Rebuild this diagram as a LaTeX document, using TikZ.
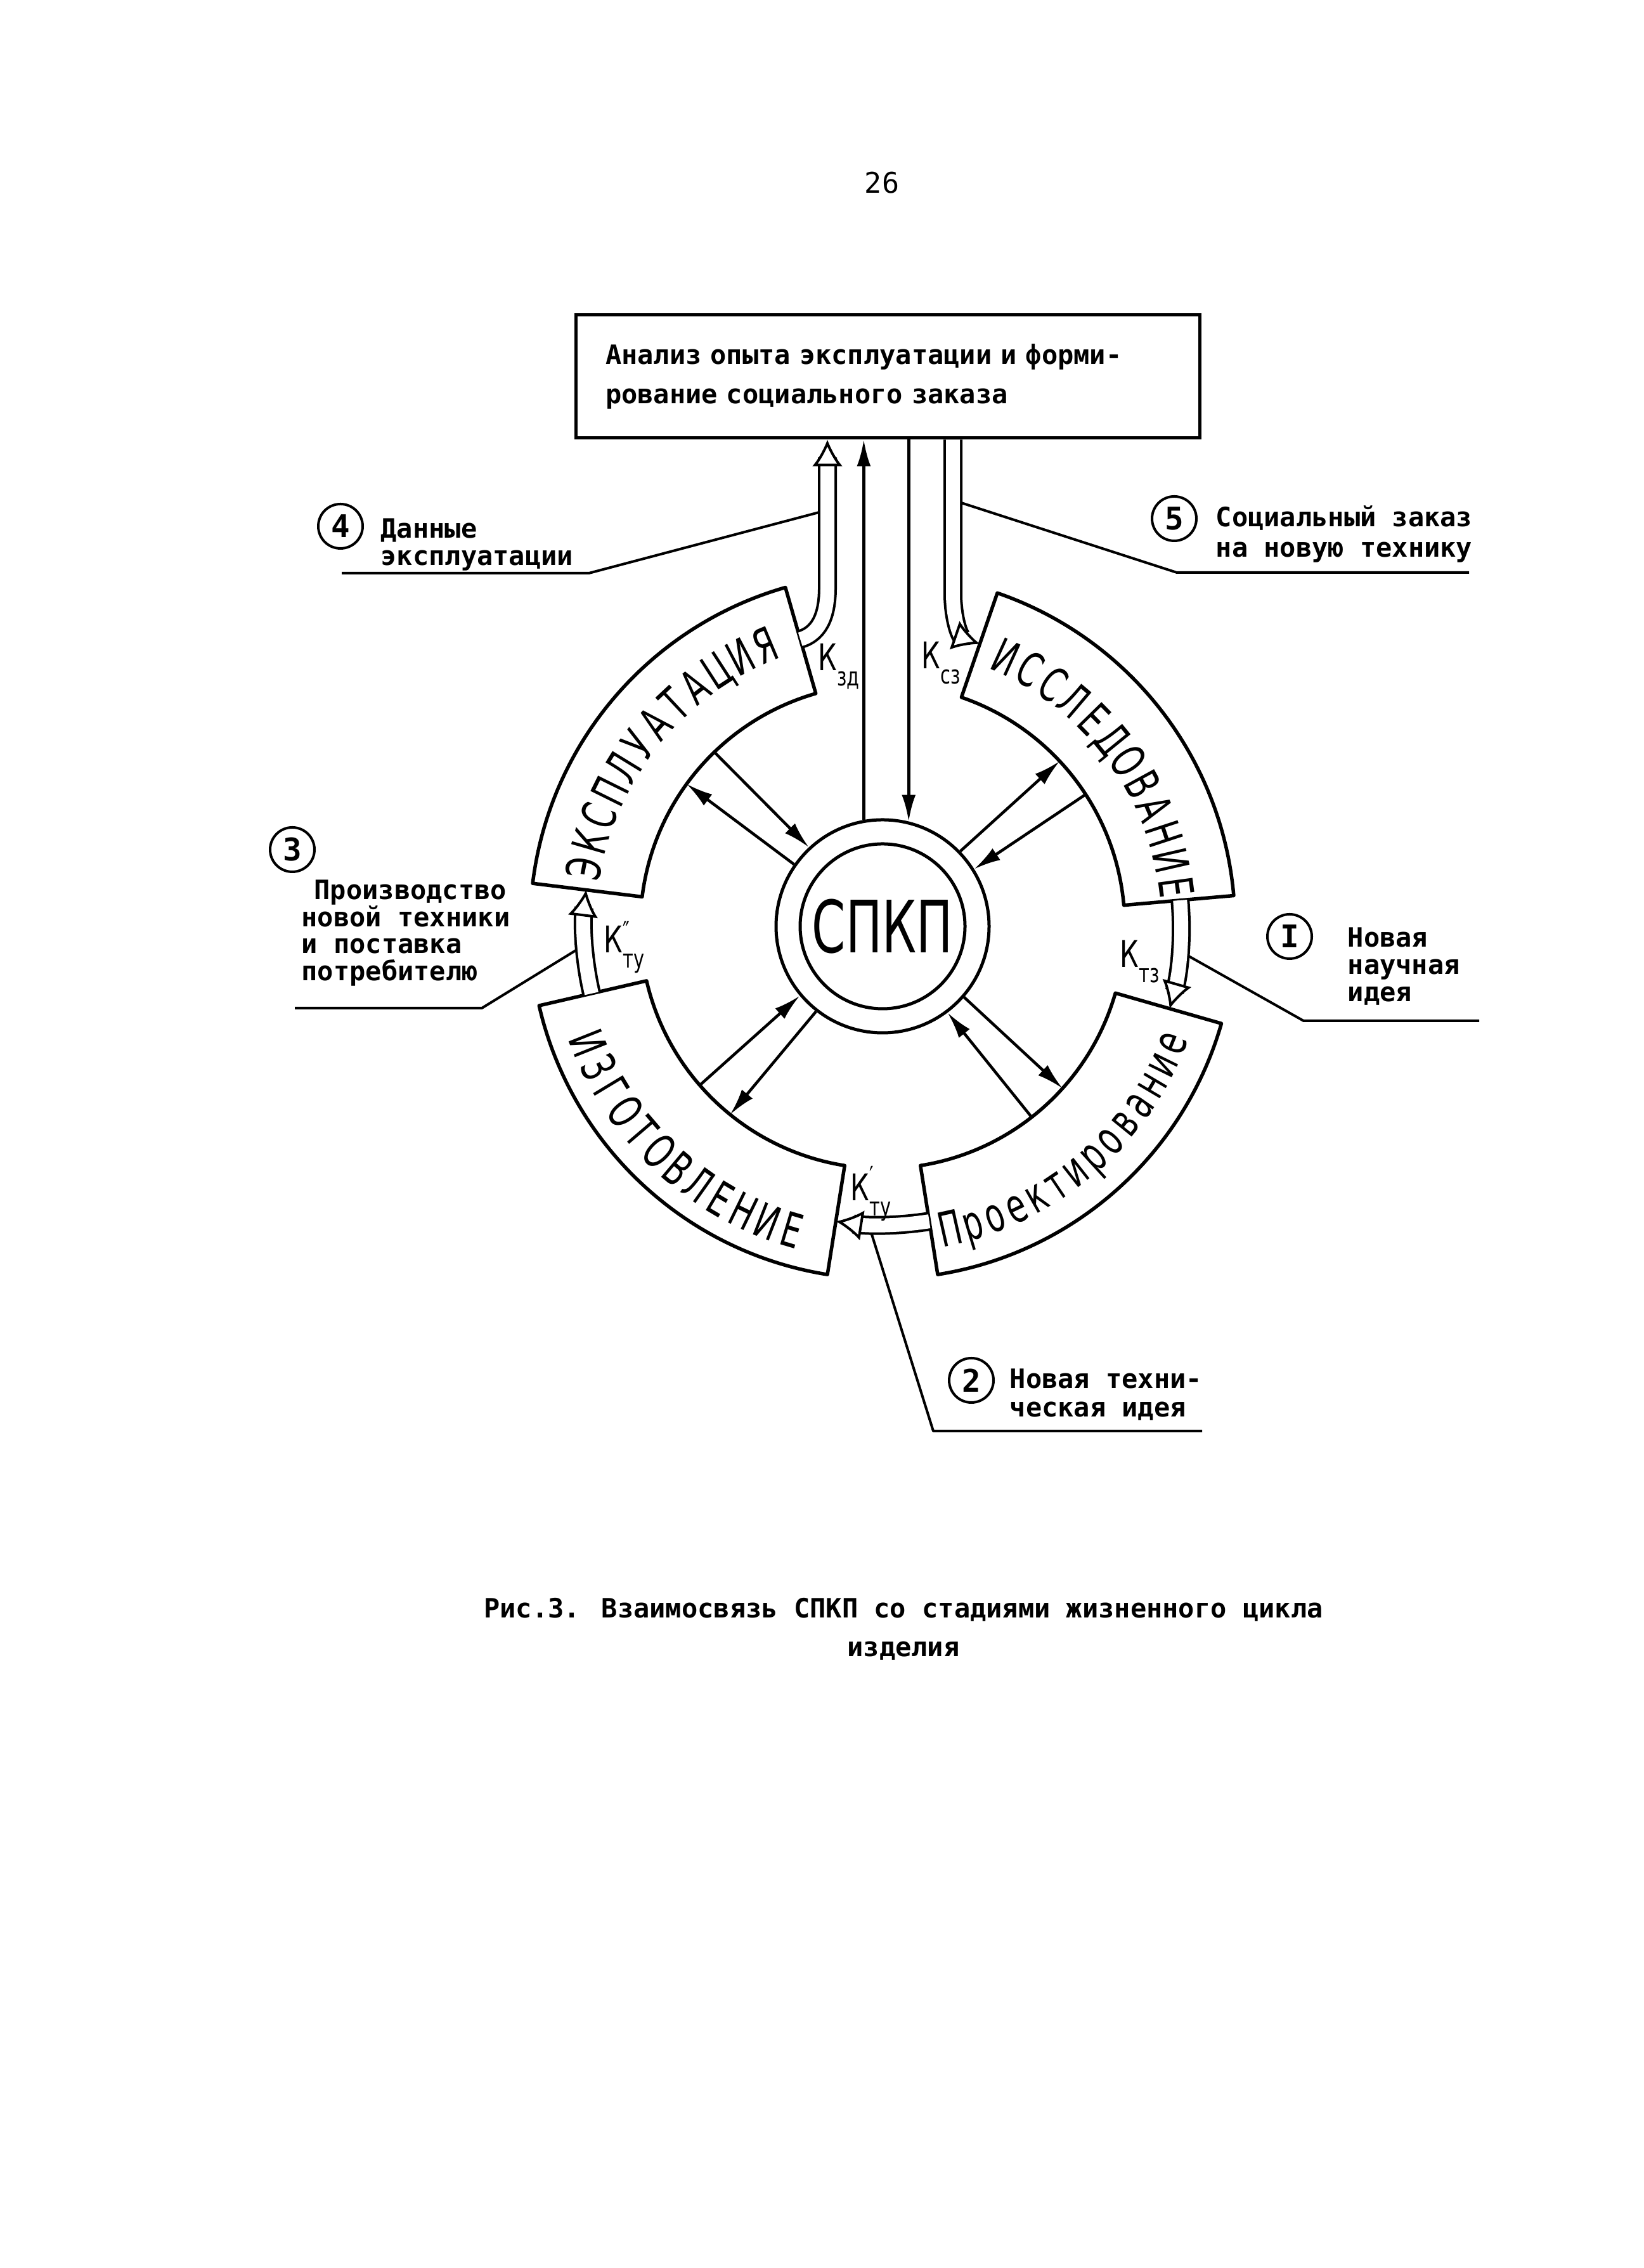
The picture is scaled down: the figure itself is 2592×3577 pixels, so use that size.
\documentclass[tikz,border=0pt]{standalone}
\usepackage{fontspec}
\setmainfont{DejaVu Sans Mono}
\newfontfamily\ringfont[FakeStretch=0.65]{DejaVu Sans}
\newfontfamily\kfont[FakeStretch=0.72]{DejaVu Sans}
\newfontfamily\spkpfont[FakeStretch=0.67]{DejaVu Sans}
\usetikzlibrary{arrows.meta}
\newcommand\mytw{\fontsize{11.95pt}{17.6pt}\selectfont\bfseries}
\newcommand\mypg{\fontsize{12.8pt}{15pt}\selectfont}
\newcommand\mycirc{\fontsize{14pt}{16pt}\selectfont\bfseries}
\newcommand\myring{\fontsize{21.3pt}{24pt}\selectfont\ringfont}
\newcommand\myk{\fontsize{16.5pt}{18pt}\selectfont\kfont}
\newcommand\myksub{\fontsize{11.4pt}{12pt}\selectfont\kfont}
\newcommand\myspkp{\fontsize{32.4pt}{34pt}\selectfont\spkpfont}
\begin{document}
\begin{tikzpicture}[x=0.1mm,y=0.1mm,
  seg/.style={draw, line width=0.55mm, line join=round},
  spoke/.style={line width=0.45mm},
  toarr/.style={-{Latex[length=4.2mm,width=2.2mm]}},
  fromarr/.style={{Latex[length=4.2mm,width=2.2mm]}-},
  chan/.style={double, double distance=2.2mm, line width=0.4mm, shorten >=2.8mm},
  otip/.style={line width=0.4mm, -{Latex[length=4.2mm,width=4.8mm,fill=white]}},
  lead/.style={line width=0.4mm, line join=round},
  callout/.style={circle, draw, line width=0.4mm, minimum size=7mm, inner sep=0pt, font=\mycirc},
  lab/.style={anchor=base west, inner sep=0pt, font=\mytw},
  klab/.style={anchor=base west, inner sep=0pt, font=\myk},
  ringl/.style={anchor=base, inner sep=0pt, font=\myring}
]
\fill[white] (0,0) rectangle (2592,3577);
\useasboundingbox (0,0) rectangle (2592,3577);

% page number
\node[anchor=base, inner sep=0pt, font=\mypg] (pnum) at (1391,3272) {26};

% top box
\node[draw, line width=0.5mm, minimum width=98.4mm, minimum height=19.4mm,
      text width=89mm, inner xsep=4.7mm, align=left, font=\mytw] (box) at (1400,2983)
  {Анализ опыта эксплуатации и форми-\\рование социального заказа};

% centre
\coordinate (O) at (1392,2116);
\node[circle, draw, line width=0.5mm, minimum size=33.6mm, inner sep=0pt] (spkp) at (O) {};
\node[circle, draw, line width=0.5mm, minimum size=26mm, inner sep=0pt, font=\myspkp] (spkpin) at (O) {СПКП};

% ring segments
\begin{scope}[shift={(O)}]
  \draw[seg] (5:382) -- (5:556) arc[start angle=5, end angle=71, radius=556]
     -- (71:382) arc[start angle=71, end angle=5, radius=382] -- cycle;
  \draw[seg] (106:382) -- (106:556) arc[start angle=106, end angle=173, radius=556]
     -- (173:382) arc[start angle=173, end angle=106, radius=382] -- cycle;
  \draw[seg] (193:382) -- (193:556) arc[start angle=193, end angle=261, radius=556]
     -- (261:382) arc[start angle=261, end angle=193, radius=382] -- cycle;
  \draw[seg] (279:382) -- (279:556) arc[start angle=279, end angle=344, radius=556]
     -- (344:382) arc[start angle=344, end angle=279, radius=382] -- cycle;
\end{scope}

% segment names, letter by letter along the arcs
\foreach \ch [count=\i from 0] in {И,С,С,Л,Е,Д,О,В,А,Н,И,Е}{
  \pgfmathsetmacro\a{65.4-5.25*\i}
  \node[ringl, rotate=\a-90] (is\i) at ([shift={(\a:440)}]O) {\ch};}
\foreach \ch [count=\i from 0] in {Э,К,С,П,Л,У,А,Т,А,Ц,И,Я}{
  \pgfmathsetmacro\a{169-5.12*\i}
  \node[ringl, rotate=\a-90] (ex\i) at ([shift={(\a:453)}]O) {\ch};}
\foreach \ch [count=\i from 0] in {И,З,Г,О,Т,О,В,Л,Е,Н,И,Е}{
  \pgfmathsetmacro\a{201.7+4.7*\i}
  \node[ringl, rotate=\a+90] (iz\i) at ([shift={(\a:527)}]O) {\ch};}
\foreach \ch [count=\i from 0] in {П,р,о,е,к,т,и,р,о,в,а,н,и,е}{
  \pgfmathsetmacro\a{282.6+4.26*\i}
  \node[ringl, rotate=\a+90] (pr\i) at ([shift={(\a:515)}]O) {\ch};}

% spokes
\draw[spoke, toarr]   (spkp.44)  -- ([shift={(43:382)}]O);
\draw[spoke, fromarr] (spkp.32)  -- ([shift={(33:382)}]O);
\draw[spoke, toarr]   (spkp.145) -- ([shift={(144:382)}]O);
\draw[spoke, fromarr] (spkp.133) -- ([shift={(134:382)}]O);
\draw[spoke, toarr]   (spkp.232) -- ([shift={(231:382)}]O);
\draw[spoke, fromarr] (spkp.220) -- ([shift={(221:382)}]O);
\draw[spoke, toarr]   (spkp.319) -- ([shift={(318:382)}]O);
\draw[spoke, fromarr] (spkp.307) -- ([shift={(308:382)}]O);

% vertical links to the box
\draw[spoke, toarr] (spkp.100) -- (spkp.100 |- box.south);
\draw[spoke, toarr] (spkp.76 |- box.south) -- (spkp.76);

% channel end points
\coordinate (isB) at ([shift={(5:471)}]O);
\coordinate (isT) at ([shift={(71:471)}]O);
\coordinate (exT) at ([shift={(106:471)}]O);
\coordinate (exB) at ([shift={(173:471)}]O);
\coordinate (izT) at ([shift={(193:471)}]O);
\coordinate (izB) at ([shift={(261:471)}]O);
\coordinate (prL) at ([shift={(279:471)}]O);
\coordinate (prR) at ([shift={(344:471)}]O);
\coordinate (kzdM) at (1305,2650);
\coordinate (kzdE) at (kzdM |- box.south);
\coordinate (kszM) at (1503,2640);
\coordinate (kszS) at (kszM |- box.south);

% double channels with hollow arrowheads
\draw[chan] (exT) to[out=16,in=-90] (kzdM) -- (kzdE);
\draw[otip] ([shift={(270:5)}]kzdE) -- (kzdE);
\draw[chan] (kszS) -- (kszM) to[out=-90,in=161] (isT);
\draw[otip] ([shift={(161:5)}]isT) -- (isT);
\draw[chan] (isB) arc[start angle=5, end angle=-16, radius=471];
\draw[otip] ([shift={(74:5)}]prR) -- (prR);
\draw[chan] (prL) arc[start angle=279, end angle=261, radius=471];
\draw[otip] ([shift={(351:5)}]izB) -- (izB);
\draw[chan] (izT) arc[start angle=193, end angle=173, radius=471];
\draw[otip] ([shift={(263:5)}]exB) -- (exB);

% K labels
\node[klab] (kzd) at (1290,2519) {К\raisebox{-2.4mm}{\myksub зд}};
\node[klab] (ksz) at (1453,2522) {К\raisebox{-2.4mm}{\myksub сз}};
\node[klab] (ktz) at (1766,2051) {К\raisebox{-2.4mm}{\myksub тз}};
\node[klab] (ktuB) at (952,2074) {К\rlap{\raisebox{2mm}{\myksub ″}}\raisebox{-2.4mm}{\myksub ту}};
\node[klab] (ktuA) at (1341,1683) {К\rlap{\raisebox{2.5mm}{\myksub ′}}\raisebox{-2.4mm}{\myksub ту}};

% leader coordinates
\coordinate (l4a) at (1292,2769); \coordinate (l4b) at (929,2673); \coordinate (l4c) at (539,2673);
\coordinate (l5a) at (1516,2784); \coordinate (l5b) at (1856,2674); \coordinate (l5c) at (2317,2674);
\coordinate (l3a) at ([shift={(184.4:484)}]O); \coordinate (l3b) at (760,1987); \coordinate (l3c) at (465,1987);
\coordinate (l1a) at ([shift={(-5.5:484)}]O); \coordinate (l1b) at (2056,1967); \coordinate (l1c) at (2333,1967);
\coordinate (l2a) at ([shift={(267.9:484)}]O); \coordinate (l2b) at (1472,1320); \coordinate (l2c) at (1896,1320);

\draw[lead] (l4a) -- (l4b) -- (l4c);
\draw[lead] (l5a) -- (l5b) -- (l5c);
\draw[lead] (l3a) -- (l3b) -- (l3c);
\draw[lead] (l1a) -- (l1b) -- (l1c);
\draw[lead] (l2a) -- (l2b) -- (l2c);

% callouts
\node[callout] (c4) at (537,2747) {4};
\node[lab] (t4) at (600,2728) {\vtop{\baselineskip=4.3mm\hbox{Данные}\hbox{эксплуатации}}};
\node[callout] (c5) at (1852,2759) {5};
\node[lab] (t5) at (1917,2746) {\vtop{\baselineskip=4.8mm\hbox{Социальный заказ}\hbox{на новую технику}}};
\node[callout] (c3) at (461,2237) {3};
\node[lab] (t3) at (475,2158) {\vtop{\baselineskip=4.25mm\hbox{\kern2mm Производство}\hbox{новой техники}\hbox{и поставка}\hbox{потребителю}}};
\node[callout] (c1) at (2034,2100) {I};
\node[lab] (t1) at (2125,2083) {\vtop{\baselineskip=4.3mm\hbox{Новая}\hbox{научная}\hbox{идея}}};
\node[callout] (c2) at (1532,1400) {2};
\node[lab] (t2) at (1592,1387) {\vtop{\baselineskip=4.5mm\hbox{Новая техни-}\hbox{ческая идея}}};

% caption
\node[anchor=base, inner sep=0pt, font=\mytw] (cap) at (1425,1025)
  {\vtop{\baselineskip=6.1mm\hbox to 0pt{\hss Рис.3. Взаимосвязь СПКП со стадиями жизненного цикла\hss}\hbox to 0pt{\hss изделия\hss}}};
\end{tikzpicture}
\end{document}
